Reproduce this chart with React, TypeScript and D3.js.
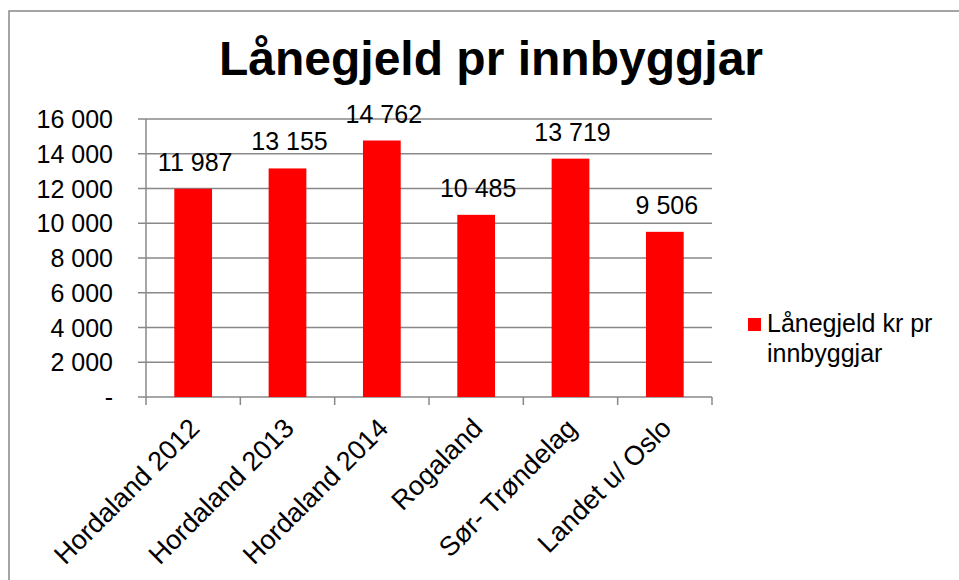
import React, { useEffect, useRef } from 'react';
import * as d3 from 'd3';

const categories = ['Hordaland 2012', 'Hordaland 2013', 'Hordaland 2014', 'Rogaland', 'Sør- Trøndelag', 'Landet u/ Oslo'];
const values = [11987, 13155, 14762, 10485, 13719, 9506];
const yTicks = [0, 2000, 4000, 6000, 8000, 10000, 12000, 14000, 16000];
const title = 'Lånegjeld pr innbyggjar';
const legendLines = ['Lånegjeld kr pr', 'innbyggjar'];

const fmt = (v: number) => (v === 0 ? '-' : d3.format(',')(v).replace(/,/g, ' '));

const App = () => {
  const ref = useRef<SVGSVGElement | null>(null);

  useEffect(() => {
    if (!ref.current) return;
    const svg = d3.select(ref.current);
    svg.selectAll('*').remove();
    const font = 'Arial, "Liberation Sans", sans-serif';
    const grid = '#888888';

    const left = 146, right = 712, top = 119, bottom = 397;

    const x = d3.scaleBand<string>().domain(categories).range([left, right]).padding(0);
    const y = d3.scaleLinear().domain([0, 16000]).range([bottom, top]);

    // frame
    svg.append('rect')
      .attr('x', 9).attr('y', 11).attr('width', 1000).attr('height', 600)
      .attr('fill', 'none').attr('stroke', grid).attr('stroke-width', 1.5);

    // title
    svg.append('text')
      .attr('x', 491).attr('y', 75)
      .attr('text-anchor', 'middle')
      .attr('font-family', font).attr('font-weight', 'bold').attr('font-size', 48)
      .text(title);

    // gridlines + y ticks
    svg.append('g').selectAll('line').data(yTicks).enter().append('line')
      .attr('x1', left - 8).attr('x2', right)
      .attr('y1', d => y(d)).attr('y2', d => y(d))
      .attr('stroke', grid).attr('stroke-width', 1.5);

    svg.append('g').selectAll('text').data(yTicks).enter().append('text')
      .attr('x', 113).attr('y', d => y(d))
      .attr('dy', '0.36em')
      .attr('text-anchor', 'end')
      .attr('font-family', font).attr('font-size', 25)
      .text(d => fmt(d));

    // y axis line
    svg.append('line')
      .attr('x1', left).attr('x2', left).attr('y1', top).attr('y2', bottom)
      .attr('stroke', grid).attr('stroke-width', 1.5);

    // x ticks
    const bounds = categories.map(c => x(c) as number).concat([right]);
    svg.append('g').selectAll('line').data(bounds).enter().append('line')
      .attr('x1', d => d).attr('x2', d => d).attr('y1', bottom).attr('y2', bottom + 8)
      .attr('stroke', grid).attr('stroke-width', 1.5);

    // bars
    const bw = x.bandwidth() * 0.4;
    const data = categories.map((c, i) => ({ c, v: values[i] }));
    svg.append('g').selectAll('rect').data(data).enter().append('rect')
      .attr('x', d => (x(d.c) as number) + x.bandwidth() / 2 - bw / 2)
      .attr('y', d => y(d.v))
      .attr('width', bw)
      .attr('height', d => bottom - y(d.v))
      .attr('fill', '#FF0000');

    // value labels
    svg.append('g').selectAll('text').data(data).enter().append('text')
      .attr('x', d => (x(d.c) as number) + x.bandwidth() / 2 + 2)
      .attr('y', d => y(d.v) - 18)
      .attr('text-anchor', 'middle')
      .attr('font-family', font).attr('font-size', 25)
      .text(d => fmt(d.v));

    // category labels
    svg.append('g').selectAll('text').data(categories).enter().append('text')
      .attr('transform', d => `translate(${(x(d) as number) + x.bandwidth() / 2 + 8},${bottom + 33}) rotate(-45)`)
      .attr('text-anchor', 'end')
      .attr('font-family', font).attr('font-size', 27)
      .text(d => d);

    // legend
    svg.append('rect')
      .attr('x', 748).attr('y', 318).attr('width', 13).attr('height', 13)
      .attr('fill', '#FF0000');
    svg.append('g').selectAll('text').data(legendLines).enter().append('text')
      .attr('x', 767).attr('y', (d, i) => 332 + i * 30)
      .attr('font-family', font).attr('font-size', 25)
      .text(d => d);
  }, []);

  return (
    <svg
      ref={ref}
      width={959}
      height={580}
      style={{ position: 'absolute', left: 0, top: 0, background: '#fff' }}
    />
  );
};

export default App;
